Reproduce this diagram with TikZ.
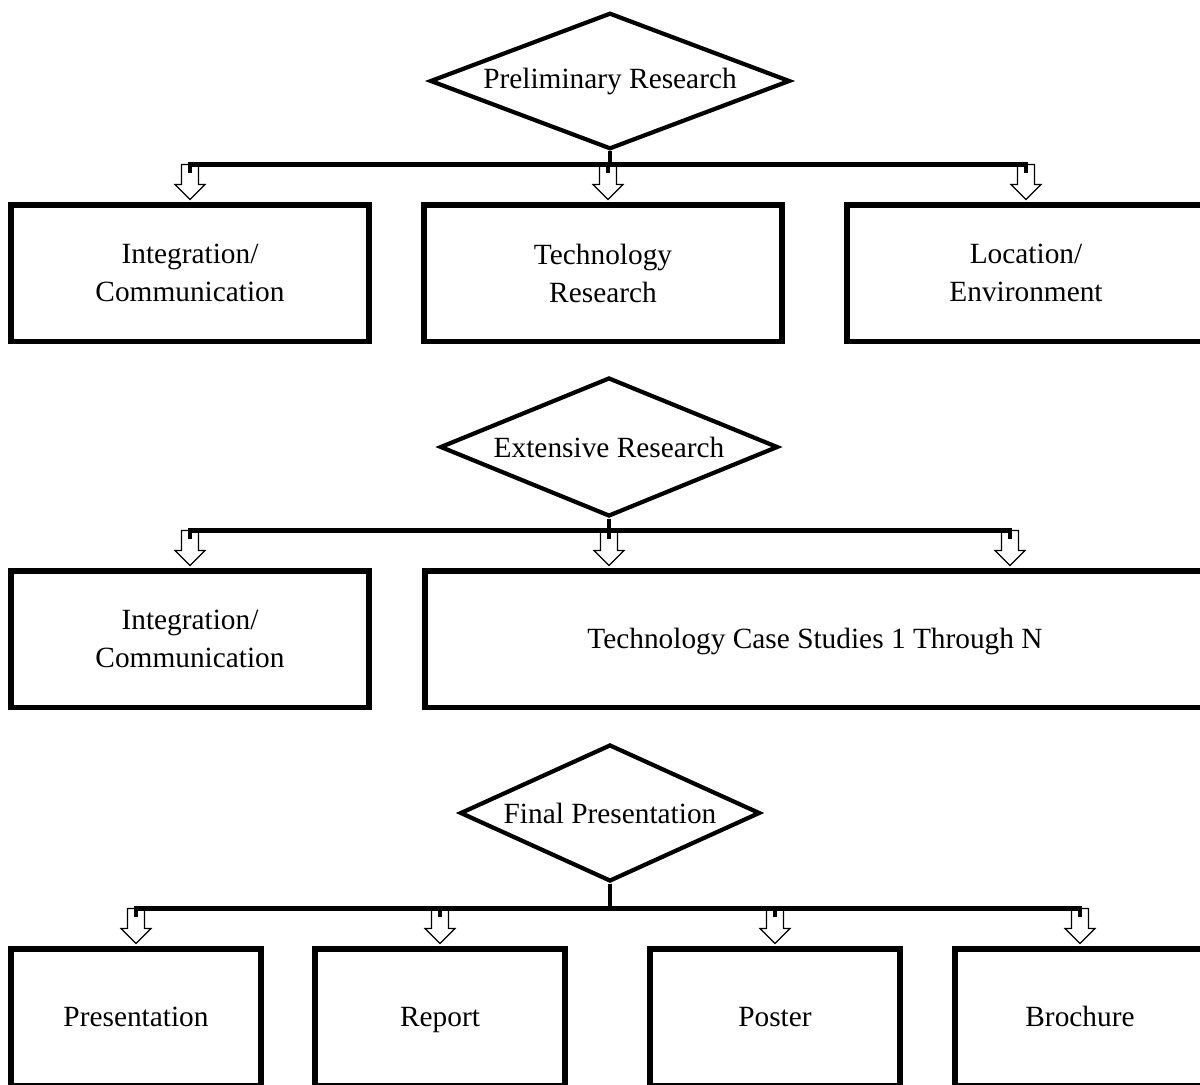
\documentclass[tikz,border=0pt]{standalone}
\usepackage{fontspec}
\setmainfont{Liberation Serif}
\usetikzlibrary{shapes.geometric,calc}

\begin{document}
\begin{tikzpicture}[
  x=0.02cm, y=-0.02cm,
  stage/.style={diamond,draw,line width=2.4pt,inner sep=0pt,font=\fontsize{16.7}{21.6}\selectfont},
  task/.style={draw,line width=3.4pt,minimum height=2.74cm,align=center,font=\fontsize{16.7}{21.6}\selectfont},
  oneline/.style={text height=2.8ex,text depth=0.55ex},
  bus/.style={line width=2.8pt},
  tipline/.style={line width=0.7pt,line join=miter},
  pics/hollowtip/.style={code={
    \draw[tipline] (0,0) -- (-0.3cm,0.3cm) -- (-0.17cm,0.3cm) -- (-0.17cm,0.7cm)
      -- (0.17cm,0.7cm) -- (0.17cm,0.3cm) -- (0.3cm,0.3cm) -- cycle;}}
]
\useasboundingbox (0,0) rectangle (1200,1085);
\clip (0,0) rectangle (1200,1085);

% first stage
\node[stage,aspect=2.31,minimum width=7.2cm] (pr) at (610,81) {Preliminary Research};
\node[task,minimum width=7.16cm] (ic1) at (190,273) {Integration/\\Communication};
\node[task,minimum width=7.16cm] (tr) at (603,273) {Technology\\Research};
\node[task,minimum width=7.16cm] (le) at (1026,273) {Location/\\Environment};
\coordinate (trin) at ($(tr.north)+(0.1cm,0)$);
\foreach \p in {ic1.north,trin,le.north} {
  \pic at ($(\p)+(0,0.04cm)$) {hollowtip};
  \draw[bus] (pr.south) |- ($(\p)+(0,0.74cm)$) -- ($(\p)+(0,0.58cm)$);
}

% second stage
\node[stage,aspect=1.95,minimum width=6.76cm] (er) at (609,447) {Extensive Research};
\node[task,minimum width=7.16cm] (ic2) at (190,639) {Integration/\\Communication};
\node[task,oneline,minimum width=15.6cm] (cs) at (815,639) {Technology Case Studies 1 Through N};
\coordinate (csin) at ($(cs.north)+(3.9cm,0)$);
\foreach \p in {ic2.north,er.south,csin} {
  \pic at ($(\p |- cs.north)+(0,0.04cm)$) {hollowtip};
  \draw[bus] (er.south) |- ($(\p |- cs.north)+(0,0.74cm)$) -- ($(\p |- cs.north)+(0,0.58cm)$);
}

% final stage
\node[stage,aspect=1.83,minimum width=6cm] (fp) at (610,813) {Final Presentation};
\node[task,oneline,minimum width=5cm] (pres) at (136,1017) {Presentation};
\node[task,oneline,minimum width=5cm] (rep) at (440,1017) {Report};
\node[task,oneline,minimum width=5cm] (post) at (775,1017) {Poster};
\node[task,oneline,minimum width=5cm] (broch) at (1080,1017) {Brochure};
\foreach \c in {pres,rep,post,broch} {
  \pic at ($(\c.north)+(0,0.04cm)$) {hollowtip};
  \draw[bus] (fp.south) |- ($(\c.north)+(0,0.74cm)$) -- ($(\c.north)+(0,0.58cm)$);
}
\end{tikzpicture}
\end{document}
